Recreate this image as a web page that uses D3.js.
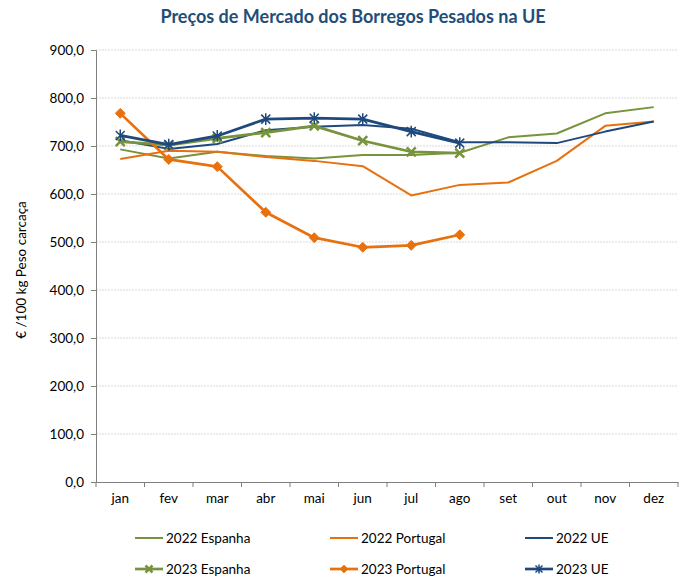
<!DOCTYPE html>
<html>
<head>
<meta charset="utf-8">
<script src="https://cdn.jsdelivr.net/npm/d3@7"></script>
<style>
  body { margin: 0; background: #fff; }
  text { font-family: Lato, "Open Sans", sans-serif; }
</style>
</head>
<body>
<div id="chart"></div>
<script>
const months = ['jan', 'fev', 'mar', 'abr', 'mai', 'jun', 'jul', 'ago', 'set', 'out', 'nov', 'dez'];
const yTicks = [0, 100, 200, 300, 400, 500, 600, 700, 800, 900];

const espanha2022 = [693, 674, 688, 679, 674, 681, 681, 686, 718, 726, 768, 781];
const portugal2022 = [673, 690, 688, 677, 669, 658, 597, 619, 624, 669, 742, 751];
const ue2022 = [712, 694, 704, 733, 740, 744, 736, 708, 708, 706, 730, 751];
const espanha2023 = [709, 702, 716, 728, 742, 711, 688, 685];
const portugal2023 = [768, 672, 657, 562, 509, 489, 493, 515];
const ue2023 = [722, 703, 721, 756, 758, 756, 730, 706];

const green = '#77933c', orange = '#e8710f', blue = '#1f497d';

const series = [
  {name: '2022 Espanha', values: espanha2022, color: green, w: 2, marker: null},
  {name: '2022 Portugal', values: portugal2022, color: orange, w: 2, marker: null},
  {name: '2022 UE', values: ue2022, color: blue, w: 2, marker: null},
  {name: '2023 Espanha', values: espanha2023, color: green, w: 2.7, marker: 'x'},
  {name: '2023 Portugal', values: portugal2023, color: orange, w: 2.7, marker: 'diamond'},
  {name: '2023 UE', values: ue2023, color: blue, w: 2.7, marker: 'star'}
];

const width = 686, height = 578;
const margin = {top: 50, right: 8, bottom: 96, left: 96};

const svg = d3.select('#chart').append('svg')
  .attr('width', width)
  .attr('height', height);

const x = d3.scaleBand()
  .domain(months)
  .range([margin.left, width - margin.right]);

const y = d3.scaleLinear()
  .domain([0, 900])
  .range([height - margin.bottom, margin.top]);

// title
svg.append('text')
  .attr('x', 353).attr('y', 23)
  .attr('text-anchor', 'middle')
  .attr('font-size', 18).attr('font-weight', 'bold')
  .attr('fill', '#1f4e79')
  .text('Preços de Mercado dos Borregos Pesados na UE');

// grid
svg.append('g')
  .selectAll('line')
  .data(yTicks.slice(1))
  .join('line')
    .attr('x1', margin.left).attr('x2', width - margin.right)
    .attr('y1', d => y(d)).attr('y2', d => y(d))
    .attr('stroke', '#d9d9d9')
    .attr('stroke-dasharray', '2,1');

// y axis
svg.append('g')
  .attr('transform', `translate(${margin.left},0)`)
  .call(d3.axisLeft(y).tickValues(yTicks).tickSize(5).tickFormat(d => d3.format('.1f')(d).replace('.', ',')))
  .call(g => g.selectAll('path, line').attr('stroke', '#7f7f7f'))
  .call(g => g.selectAll('text').attr('font-size', 13.5).attr('fill', '#000').attr('dx', -4));

// x axis
const xAxis = svg.append('g')
  .attr('transform', `translate(0,${y(0)})`)
  .call(d3.axisBottom(x).tickSize(0).tickSizeOuter(0))
  .call(g => g.select('.domain').attr('stroke', '#7f7f7f'))
  .call(g => g.selectAll('text').attr('font-size', 13.5).attr('fill', '#000').attr('dy', '1.3em'));

xAxis.selectAll('.bnd')
  .data(d3.range(months.length + 1))
  .join('line')
    .attr('x1', i => margin.left + i * x.bandwidth())
    .attr('x2', i => margin.left + i * x.bandwidth())
    .attr('y1', 0).attr('y2', 5)
    .attr('stroke', '#7f7f7f');

// y label
svg.append('text')
  .attr('transform', `translate(26,${y(450) + 4}) rotate(-90)`)
  .attr('text-anchor', 'middle')
  .attr('font-size', 13.5)
  .text('€ /100 kg Peso carcaça');

const cx = (d, i) => x(months[i]) + x.bandwidth() / 2;
const line = d3.line().x(cx).y(d => y(d));

function drawMarker(g, type, color, s) {
  if (type === 'x') {
    g.append('path').attr('d', `M${-s},${-s}L${s},${s}M${-s},${s}L${s},${-s}`)
      .attr('stroke', color).attr('stroke-width', 2.5).attr('fill', 'none');
  } else if (type === 'diamond') {
    const d = s * 1.1;
    g.append('path').attr('d', `M0,${-d}L${d},0L0,${d}L${-d},0Z`)
      .attr('fill', color).attr('stroke', color).attr('stroke-width', 1);
  } else if (type === 'star') {
    g.append('path').attr('d', `M${-s},${-s}L${s},${s}M${-s},${s}L${s},${-s}M0,${-s * 1.3}L0,${s * 1.3}`)
      .attr('stroke', color).attr('stroke-width', 1.5).attr('fill', 'none');
  }
}

series.forEach(s => {
  svg.append('path')
    .datum(s.values)
    .attr('d', line)
    .attr('fill', 'none')
    .attr('stroke', s.color)
    .attr('stroke-width', s.w)
    .attr('stroke-linejoin', 'round');
  if (s.marker) {
    s.values.forEach((v, i) => {
      const g = svg.append('g').attr('transform', `translate(${cx(v, i)},${y(v)})`);
      drawMarker(g, s.marker, s.color, 4.5);
    });
  }
});

// legend
const legX = [135, 330, 525];
const legY = [538, 569];
series.forEach((s, i) => {
  const col = i % 3, row = Math.floor(i / 3);
  const g = svg.append('g').attr('transform', `translate(${legX[col]},${legY[row]})`);
  g.append('line').attr('x1', 0).attr('x2', 28).attr('y1', 0).attr('y2', 0)
    .attr('stroke', s.color).attr('stroke-width', s.w);
  if (s.marker) {
    const m = g.append('g').attr('transform', 'translate(14,0)');
    drawMarker(m, s.marker, s.color, 3.5);
  }
  g.append('text').attr('x', 31).attr('y', 0).attr('dy', '0.35em')
    .attr('font-size', 13.5).text(s.name);
});
</script>
</body>
</html>
